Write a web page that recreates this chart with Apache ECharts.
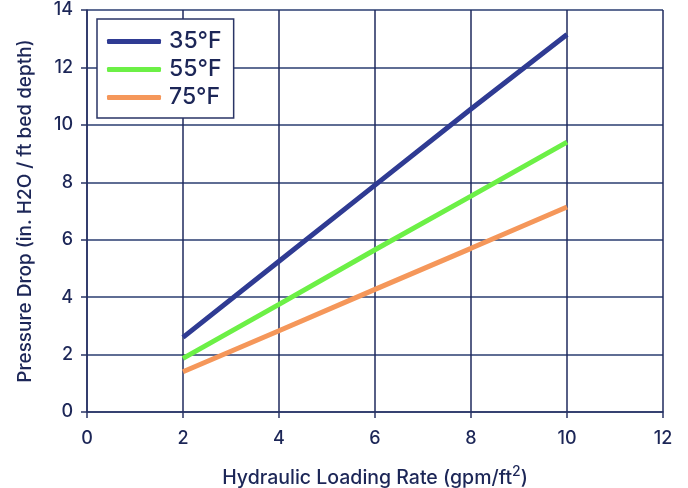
<!DOCTYPE html>
<html><head><meta charset="utf-8">
<script src="https://cdn.jsdelivr.net/npm/echarts@6/dist/echarts.min.js"></script>
<style>html,body{margin:0;padding:0;background:#fff}#c{width:688px;height:488px}</style>
</head><body><div id="c"></div>
<script>
const xValues = [2, 4, 6, 8, 10];
const s35 = [2.6, 5.25, 7.9, 10.55, 13.15];
const s55 = [1.87, 3.75, 5.65, 7.52, 9.4];
const s75 = [1.4, 2.83, 4.27, 5.7, 7.14];
const seriesNames = ['35°F', '55°F', '75°F'];
const colors = ['#2f3b93', '#6cf046', '#f5975a'];
const navy = '#1c2657';
const font = 'Inter, "Noto Sans", sans-serif';
const chart = echarts.init(document.getElementById('c'));
const mk = (name, vals, color) => ({
  name, type: 'line', data: xValues.map((x, i) => [x, vals[i]]),
  showSymbol: false, lineStyle: {width: 5, color}, itemStyle: {color}, z: 3
});
chart.setOption({
  animation: false,
  grid: {left: 87, right: 25, top: 10, bottom: 76, outerBoundsMode: 'none', containLabel: false},
  legend: {
    left: 97, top: 19, orient: 'vertical', itemWidth: 54, itemHeight: 5, itemGap: 5,
    padding: [11, 12, 9, 10], borderColor: '#2a3566', borderWidth: 1.5, backgroundColor: '#fff',
    icon: 'roundRect',
    textStyle: {fontFamily: font, fontSize: 23, fontWeight: 500, color: navy, padding: [0, 0, 0, 3]},
    data: seriesNames
  },
  xAxis: {
    type: 'value', min: 0, max: 12, interval: 2,
    name: 'Hydraulic Loading Rate (gpm/ft{sup|2})', nameLocation: 'middle', nameGap: 53,
    nameTextStyle: {fontFamily: font, fontSize: 19.5, fontWeight: 500, color: navy,
      rich: {sup: {fontSize: 14, fontWeight: 500, verticalAlign: 'top', padding: [0, 0, 12, 0], fontFamily: font, color: navy}}},
    axisLine: {show: true, lineStyle: {color: '#2a3566', width: 1.5}},
    axisTick: {show: true, length: 6, lineStyle: {color: '#2a3566', width: 1.5}},
    axisLabel: {fontFamily: font, fontSize: 18, fontWeight: 500, color: navy, margin: 18},
    splitLine: {show: true, lineStyle: {color: '#1f2a5e', width: 1.5}}
  },
  yAxis: {
    type: 'value', min: 0, max: 14, interval: 2,
    name: 'Pressure Drop (in. H2O / ft bed depth)', nameLocation: 'middle', nameGap: 52,
    nameTextStyle: {fontFamily: font, fontSize: 19, fontWeight: 500, color: navy},
    axisLine: {show: true, lineStyle: {color: '#2a3566', width: 1.5}},
    axisTick: {show: true, length: 6, inside: false, lineStyle: {color: '#2a3566', width: 1.5}},
    axisLabel: {fontFamily: font, fontSize: 18, fontWeight: 500, color: navy, margin: 14},
    splitLine: {show: true, lineStyle: {color: '#5f6d94', width: 2}}
  },
  series: [mk(seriesNames[0], s35, colors[0]), mk(seriesNames[1], s55, colors[1]), mk(seriesNames[2], s75, colors[2])]
});
</script></body></html>
